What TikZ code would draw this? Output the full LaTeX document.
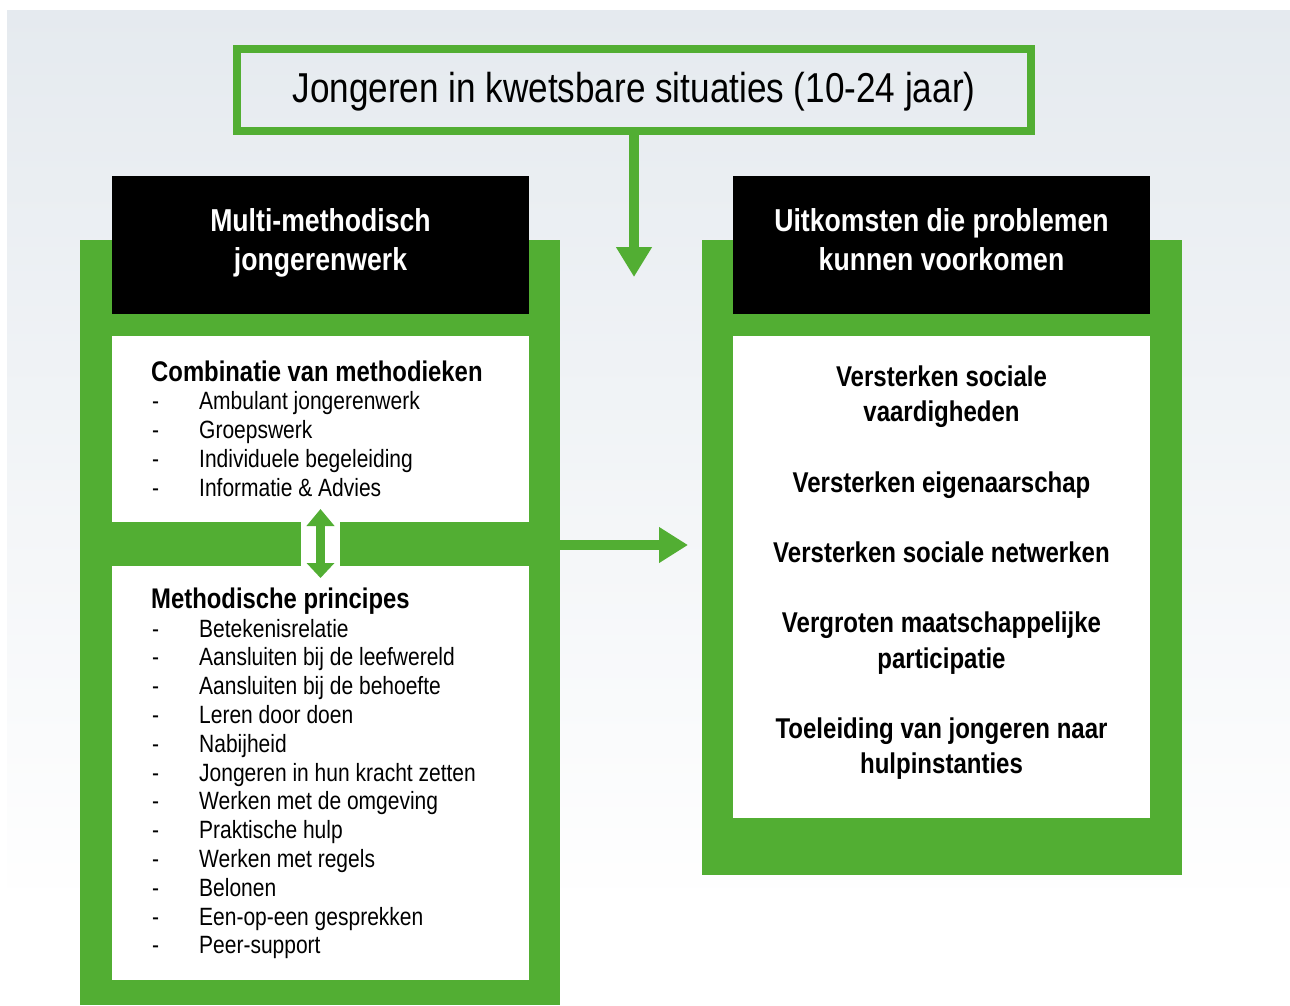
\documentclass[tikz,border=0pt]{standalone}
\usepackage{fontspec}
\setmainfont{Liberation Sans}[FakeStretch=0.84]
\usetikzlibrary{arrows.meta}
\definecolor{grn}{RGB}{82,174,51}
\definecolor{bgtop}{RGB}{229,234,239}
\begin{document}
\begin{tikzpicture}[x=1pt,y=-1pt,
  panel/.style={anchor=north west, inner sep=0pt, outer sep=0pt, fill=grn},
  blackbox/.style={anchor=north west, inner sep=0pt, outer sep=0pt, fill=black},
  whitebox/.style={anchor=north west, inner sep=0pt, outer sep=0pt, fill=white},
  hdr/.style={anchor=base, text=white, font=\fontsize{31.7}{37}\selectfont\bfseries, inner sep=0pt},
  lhead/.style={anchor=base west, font=\fontsize{28.4}{34}\selectfont\bfseries, inner sep=0pt},
  litem/.style={anchor=base west, font=\fontsize{25}{29}\selectfont, inner sep=0pt},
  ritem/.style={anchor=base, font=\fontsize{28.6}{34}\selectfont\bfseries, inner sep=0pt},
  garrow/.style={draw=grn, line width=10pt, -{Triangle[length=30pt,width=34pt]}},
]
\useasboundingbox (0,0) rectangle (1290,1005);
\fill[white] (0,0) rectangle (1290,1005);
\shade[top color=bgtop, bottom color=white!97!bgtop] (7,10) rectangle (1290,887);

% top box
\node[draw=grn, line width=8pt, minimum width=794pt, minimum height=82pt, inner sep=0pt] (top) at (634,90) {};
\node[anchor=base, font=\fontsize{41.8}{46}\selectfont, inner sep=0pt] (toptext) at (634,102) {Jongeren in kwetsbare situaties (10-24 jaar)};
\coordinate (vtip) at (634,277);
\draw[garrow] (top.south) -- (vtip);

% left panel
\node[panel, minimum width=480pt, minimum height=765pt] (lpanel) at (80,240) {};
\node[blackbox, minimum width=417pt, minimum height=138pt] (lheadbox) at (112,176) {};
\node[whitebox, minimum width=417pt, minimum height=186pt] (lbox1) at (112,336) {};
\node[whitebox, minimum width=417pt, minimum height=414pt] (lbox2) at (112,566) {};
\node[whitebox, minimum width=39pt, minimum height=46pt] (gap) at (301,521) {};
\coordinate (dtop) at (320.5,509);
\coordinate (dbot) at (320.5,578);
\draw[draw=grn, line width=9pt, {Triangle[length=17pt,width=27pt]}-{Triangle[length=15pt,width=27pt]}] (dtop) -- (dbot);

% right panel
\node[panel, minimum width=480pt, minimum height=635pt] (rpanel) at (702,240) {};
\node[blackbox, minimum width=417pt, minimum height=138pt] (rheadbox) at (733,176) {};
\node[whitebox, minimum width=417pt, minimum height=482pt] (rbox) at (733,336) {};

% horizontal arrow
\coordinate (htip) at (688,545);
\draw[draw=grn, line width=10pt, -{Triangle[length=29pt,width=34pt]}] (lpanel.east |- htip) -- (htip);

% headers
\node[hdr] (lh1) at (320.5,231) {Multi-methodisch};
\node[hdr] (lh2) at (320.5,270) {jongerenwerk};
\node[hdr] (rh1) at (941.5,231) {Uitkomsten die problemen};
\node[hdr] (rh2) at (941.5,270) {kunnen voorkomen};

% left box 1
\node[lhead] (c0) at (151,381) {Combinatie van methodieken};
\foreach \t [count=\i] in {Ambulant jongerenwerk, Groepswerk, Individuele begeleiding, Informatie \& Advies}
  \node[litem] (c\i) at (152,{409+29*(\i-1)}) {\makebox[47pt][l]{-}\t};

% left box 2
\node[lhead] (m0) at (151,608) {Methodische principes};
\foreach \t [count=\i] in {Betekenisrelatie, Aansluiten bij de leefwereld, Aansluiten bij de behoefte, Leren door doen, Nabijheid, Jongeren in hun kracht zetten, Werken met de omgeving, Praktische hulp, Werken met regels, Belonen, Een-op-een gesprekken, Peer-support}
  \node[litem] (m\i) at (152,{637+28.8*(\i-1)}) {\makebox[47pt][l]{-}\t};

% right box
\node[ritem] (r1) at (941.5,386) {Versterken sociale};
\node[ritem] (r2) at (941.5,421) {vaardigheden};
\node[ritem] (r3) at (941.5,492) {Versterken eigenaarschap};
\node[ritem] (r4) at (941.5,562) {Versterken sociale netwerken};
\node[ritem] (r5) at (941.5,632) {Vergroten maatschappelijke};
\node[ritem] (r6) at (941.5,668) {participatie};
\node[ritem] (r7) at (941.5,738) {Toeleiding van jongeren naar};
\node[ritem] (r8) at (941.5,773) {hulpinstanties};
\end{tikzpicture}
\end{document}
